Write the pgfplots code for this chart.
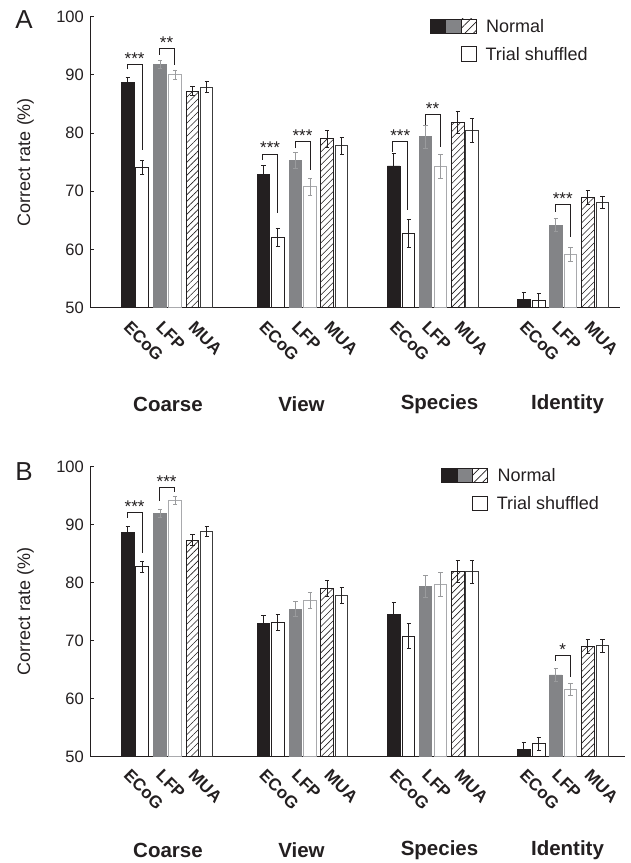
\documentclass[border=0pt]{standalone}
\usepackage{pgfplots}
\usepackage{pgfplotstable}
\pgfplotsset{compat=1.18}
\usepackage{fontspec}
\setmainfont{Liberation Sans}
\usetikzlibrary{patterns.meta}
\definecolor{blk}{HTML}{231F20}
\definecolor{gbar}{HTML}{838487}
\definecolor{gerr}{HTML}{9A9B9D}
\definecolor{gedge}{HTML}{A9AAAD}
\definecolor{dedge}{HTML}{3C3C3C}

\pgfplotstableread{
xE xEs xL xLs xM xMs yEN eEN yES eES yLN eLN yLS eLS yMN eMN yMS eMS
127.7 142.2 160.0 175.0 192.5 206.7 88.70 0.9 74.10 1.2 91.80 0.7 90.00 0.85 87.20 0.8 87.90 0.9
263.3 277.8 295.3 310.0 327.2 341.7 72.95 1.5 62.10 1.6 75.35 1.4 70.75 1.5 79.00 1.4 77.80 1.4
393.7 408.7 425.3 440.3 457.8 472.0 74.35 2.1 62.75 2.4 79.35 2.0 74.30 2.1 81.90 1.9 80.45 2.0
523.7 538.8 555.7 570.3 587.8 602.3 51.40 1.2 51.20 1.3 64.20 1.1 59.20 1.2 69.00 1.2 68.10 1.1
}\TA

\pgfplotstableread{
xE xEs xL xLs xM xMs yEN eEN yES eES yLN eLN yLS eLS yMN eMN yMS eMS
127.7 142.2 160.0 175.0 192.5 206.7 88.70 1.0 82.75 1.0 91.95 0.7 94.15 0.7 87.35 0.9 88.80 0.9
263.3 277.8 295.3 310.0 327.2 341.7 72.90 1.4 73.15 1.4 75.40 1.3 76.90 1.4 79.00 1.4 77.75 1.4
393.7 408.7 425.3 440.3 457.8 472.0 74.45 2.1 70.80 2.2 79.40 1.9 79.70 2.0 82.00 1.9 81.90 2.0
523.7 538.8 555.7 570.3 587.8 602.3 51.30 1.2 52.20 1.2 64.10 1.1 61.60 1.1 68.95 1.2 69.15 1.1
}\TB

\newcommand{\tickfont}{\fontsize{16.5}{18}\selectfont}
\newcommand{\catfont}{\bfseries\fontsize{17}{19}\selectfont}
\newcommand{\grpfont}{\bfseries\fontsize{20.5}{23}\selectfont}
\newcommand{\starfont}{\fontsize{17}{19}\selectfont}

\pgfplotsset{
  panel/.style={
    scale only axis, clip mode=individual,
    ymin=50, ymax=100, ytick={50,60,...,100},
    xtick=\empty,
    axis x line*=bottom, axis y line*=left,
    axis line style={blk, line width=1pt},
    tick style={blk, line width=0.9pt},
    major tick length=4pt, tick align=inside,
    tick label style={font=\tickfont, text=blk},
    yticklabel style={inner sep=0pt, xshift=-6pt},
    /pgf/number format/assume math mode=true,
    ybar, bar width=12.5pt,
  },
  eb/.style={error bars/.cd, y dir=both, y explicit,
    error bar style={#1, line width=0.9pt},
    error mark options={#1, line width=0.9pt, mark size=2.2pt, rotate=90}},
}

\newcommand{\sixbars}[1]{%
  \addplot[bar shift=0pt, fill=blk, draw=blk, line width=0.8pt, eb=blk] table[x=xE,y=yEN,y error=eEN]{#1};
  \addplot[bar shift=0pt, fill=white, draw=blk, line width=1pt, eb=blk] table[x=xEs,y=yES,y error=eES]{#1};
  \addplot[bar shift=0pt, fill=gbar, draw=gbar, line width=0.8pt, eb=gerr] table[x=xL,y=yLN,y error=eLN]{#1};
  \addplot[bar shift=0pt, fill=white, draw=gedge, line width=1pt, eb=gerr] table[x=xLs,y=yLS,y error=eLS]{#1};
  \addplot[bar shift=0pt, draw=blk, line width=1pt, pattern={Lines[angle=45,distance=4.6pt,line width=0.6pt]}, pattern color=blk, eb=blk] table[x=xM,y=yMN,y error=eMN]{#1};
  \addplot[bar shift=0pt, fill=white, draw=dedge, line width=1pt, eb=blk] table[x=xMs,y=yMS,y error=eMS]{#1};
}

% one group's labels: #1 ECoG x, #2 LFP x, #3 MUA x, #4 label-top y, #5 group x, #6 group y, #7 name
\newcommand{\grp}[7]{%
  \node[rotate=-45, anchor=north west, inner sep=0pt, font=\catfont, text=blk] at (axis cs:#1,#4) {ECoG};
  \node[rotate=-45, anchor=north west, inner sep=0pt, font=\catfont, text=blk] at (axis cs:#2,#4) {LFP};
  \node[rotate=-45, anchor=north west, inner sep=0pt, font=\catfont, text=blk] at (axis cs:#3,#4) {MUA};
  \node[font=\grpfont, text=blk] at (axis cs:#5,#6) {#7};
}
\newcommand{\catlabels}[2]{%
  \grp{131.2}{163.5}{196.0}{#1}{168}{#2}{Coarse}
  \grp{266.8}{299.1}{331.6}{#1}{301.5}{#2}{View}
  \grp{397.2}{429.5}{462.0}{#1}{439.5}{#2}{Species}
  \grp{527.2}{559.5}{592.0}{#1}{567.5}{#2}{Identity}
}

% bracket: x1, x2, mid, left bottom, top, right bottom, stars
\newcommand{\bracket}[7]{%
  \draw[blk, line width=0.9pt] (axis cs:#1,#4) |- (axis cs:#2,#5) -- (axis cs:#2,#6);
  \node[anchor=base, inner sep=0pt, font=\starfont, text=blk] at (axis cs:#3,#5) {#7};
}

\begin{document}
\begin{tikzpicture}
\path[use as bounding box] (0pt,0pt) rectangle (631pt,863pt);

% ---------------- Panel A ----------------
\begin{axis}[panel, at={(90pt,555.3pt)}, anchor=south west,
  width=530pt, height=291pt, xmin=90, xmax=620]
\sixbars{\TA}
\bracket{127}{142.3}{134.6}{90.96}{91.82}{77.1}{***}
\bracket{159.3}{174}{166.6}{93.42}{94.57}{91.7}{**}
\bracket{262.7}{277.5}{270.1}{75.38}{76.41}{66.2}{***}
\bracket{295}{310}{302.5}{77.4}{78.5}{73.7}{***}
\bracket{392.7}{407.7}{400.2}{76.8}{78.64}{66.8}{***}
\bracket{425}{440}{432.5}{81.4}{83.23}{77.66}{**}
\bracket{555.7}{570}{562.8}{66.5}{67.77}{62.2}{***}
\catlabels{47.9}{33.45}
\end{axis}

% ---------------- Panel B ----------------
\begin{axis}[panel, at={(90pt,106.3pt)}, anchor=south west,
  width=535pt, height=290pt, xmin=90, xmax=625]
\sixbars{\TB}
\bracket{127}{142.3}{134.6}{91.2}{92.07}{85.07}{***}
\bracket{159.3}{174}{166.6}{94.09}{96.45}{95.69}{***}
\bracket{555.7}{570}{562.8}{66.55}{67.53}{63.79}{*}
\catlabels{48.0}{33.8}
\end{axis}

% y labels and panel letters
\node[rotate=90, font=\fontsize{18}{20}\selectfont, text=blk] at (25.5pt,701pt) {Correct rate (\%)};
\node[rotate=90, font=\fontsize{18}{20}\selectfont, text=blk] at (25.5pt,251.3pt) {Correct rate (\%)};
\node[font=\fontsize{26}{28}\selectfont, text=blk] at (24pt,843pt) {A};
\node[font=\fontsize{26}{28}\selectfont, text=blk] at (24pt,391.5pt) {B};

% legend A
\filldraw[fill=blk, draw=blk, line width=0.6pt] (430pt,844pt) rectangle (445.6pt,829.7pt);
\filldraw[fill=gbar, draw=blk, line width=0.6pt] (445.6pt,844pt) rectangle (461.2pt,829.7pt);
\draw[blk, line width=0.8pt, pattern={Lines[angle=45,distance=6pt,line width=0.8pt]}, pattern color=blk] (461.2pt,844pt) rectangle (476.7pt,829.7pt);
\node[anchor=west, inner sep=0pt, font=\fontsize{18}{20}\selectfont, text=blk] at (486pt,837pt) {Normal};
\draw[blk, line width=0.8pt] (461.7pt,816.3pt) rectangle (476.7pt,801.3pt);
\node[anchor=west, inner sep=0pt, font=\fontsize{18}{20}\selectfont, text=blk] at (485.3pt,809pt) {Trial shuffled};

% legend B
\filldraw[fill=blk, draw=blk, line width=0.6pt] (441.7pt,394.7pt) rectangle (457pt,380.3pt);
\filldraw[fill=gbar, draw=blk, line width=0.6pt] (457pt,394.7pt) rectangle (472.3pt,380.3pt);
\draw[blk, line width=0.8pt, pattern={Lines[angle=45,distance=6pt,line width=0.8pt]}, pattern color=blk] (472.3pt,394.7pt) rectangle (487.3pt,380.3pt);
\node[anchor=west, inner sep=0pt, font=\fontsize{18}{20}\selectfont, text=blk] at (497.3pt,388pt) {Normal};
\draw[blk, line width=0.8pt] (472.7pt,367pt) rectangle (487.3pt,352.3pt);
\node[anchor=west, inner sep=0pt, font=\fontsize{18}{20}\selectfont, text=blk] at (496.7pt,360pt) {Trial shuffled};
\end{tikzpicture}
\end{document}
